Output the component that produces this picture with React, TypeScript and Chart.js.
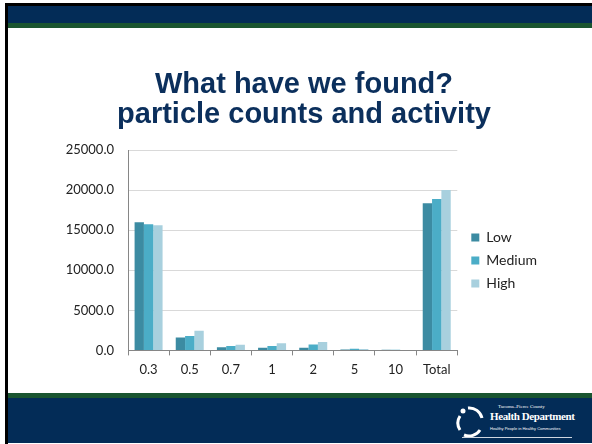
import React, { useEffect, useRef } from "react";
import { Chart, registerables } from "chart.js";

Chart.register(...registerables);

const categories = ["0.3", "0.5", "0.7", "1", "2", "5", "10", "Total"];
const lowValues = [16000, 1600, 400, 330, 330, 120, 80, 18350];
const mediumValues = [15750, 1800, 550, 540, 750, 200, 70, 18900];
const highValues = [15600, 2450, 700, 900, 1050, 170, 50, 20000];
const seriesNames = ["Low", "Medium", "High"];
const titleLines = ["What have we found?", "particle counts and activity"];
const yMax = 25000;
const yStep = 5000;

const NAVY = "#032C57";
const GREEN = "#1A5530";

const shiftLegend = {
  id: "shiftLegend",
  afterLayout(chart: any) {
    const l = chart.legend;
    if (l) {
      l.left += 5;
      l.right += 5;
      l.top += 54;
      l.bottom += 54;
    }
  },
};

function Logo() {
  return (
    <div style={{ position: "absolute", left: 452, top: 402, width: 130, height: 40, color: "#fff" }}>
      <svg width="32" height="34" style={{ position: "absolute", left: 2, top: 2 }}>
        <path d="M14 4 A13 13 0 0 1 28 14" stroke="#fff" strokeWidth="3" fill="none" />
        <path d="M6 12 A13 13 0 0 0 6 26" stroke="#fff" strokeWidth="3" fill="none" />
        <path d="M10 31 A13 13 0 0 0 26 26" stroke="#fff" strokeWidth="3" fill="none" />
        <circle cx="9" cy="7" r="2.5" fill="#fff" />
      </svg>
      <div style={{ position: "absolute", left: 46, top: 2, fontSize: 5, fontFamily: "Liberation Serif", whiteSpace: "nowrap" }}>
        Tacoma–Pierce County
      </div>
      <div style={{ position: "absolute", left: 38, top: 8, fontSize: 11, fontWeight: "bold", fontFamily: "Liberation Serif", whiteSpace: "nowrap", letterSpacing: -0.4 }}>
        Health Department
      </div>
      <div style={{ position: "absolute", left: 38, top: 24, fontSize: 4, fontFamily: "Liberation Sans", whiteSpace: "nowrap" }}>
        Healthy People in Healthy Communities
      </div>
      <div style={{ position: "absolute", left: 10, top: 35, width: 110, height: 1, background: "#cfd6e0" }} />
    </div>
  );
}

export default function App() {
  const canvasRef = useRef<HTMLCanvasElement | null>(null);

  useEffect(() => {
    if (!canvasRef.current) return;
    const chart = new Chart(canvasRef.current, {
      type: "bar",
      data: {
        labels: categories,
        datasets: [
          { label: seriesNames[0], data: lowValues, backgroundColor: "#3C8BA2" },
          { label: seriesNames[1], data: mediumValues, backgroundColor: "#4BADC7" },
          { label: seriesNames[2], data: highValues, backgroundColor: "#A8D0DE" },
        ],
      },
      options: {
        responsive: false,
        animation: false,
        datasets: { bar: { categoryPercentage: 0.68, barPercentage: 1 } },
        layout: { padding: { left: 58, right: 50, top: 0, bottom: 7 } },
        plugins: {
          title: {
            display: true,
            text: titleLines,
            color: "#0B2F5C",
            font: { family: "Liberation Sans", size: 29, weight: "bold", lineHeight: "30px" },
            padding: { top: 42, bottom: 20 },
          },
          legend: {
            position: "right",
            labels: {
              boxWidth: 8,
              boxHeight: 8,
              padding: 9,
              color: "#222",
              font: { family: "Lato", size: 14 },
            },
          },
          tooltip: { enabled: false },
        },
        scales: {
          x: {
            grid: {
              display: true,
              drawOnChartArea: false,
              drawTicks: true,
              tickLength: 5,
              offset: true,
              color: "#868686",
            },
            border: { display: true, color: "#868686" },
            ticks: { color: "#222", font: { family: "Lato", size: 13 }, padding: 7 },
          },
          y: {
            min: 0,
            max: yMax,
            grid: { color: "#D9D9D9", drawTicks: false },
            border: { display: true, color: "#868686" },
            ticks: {
              stepSize: yStep,
              padding: 14,
              color: "#222",
              font: { family: "Lato", size: 13 },
              callback: (v: any) => Number(v).toFixed(1),
            },
            afterFit: (s: any) => {
              s.width = 62;
            },
          },
        },
      },
      plugins: [shiftLegend],
    } as any);
    return () => chart.destroy();
  }, []);

  return (
    <div style={{ position: "fixed", left: 0, top: 0, width: 592, height: 444, background: "#fff", overflow: "hidden" }}>
      <div style={{ position: "absolute", left: 5, top: 3, width: 587, height: 3, background: "#000" }} />
      <div style={{ position: "absolute", left: 5, top: 3, width: 3, height: 441, background: "#000" }} />
      <div style={{ position: "absolute", left: 8, top: 6, width: 584, height: 17, background: NAVY }} />
      <div style={{ position: "absolute", left: 8, top: 23, width: 584, height: 5, background: GREEN }} />
      <div style={{ position: "absolute", left: 8, top: 393, width: 584, height: 5, background: GREEN }} />
      <div style={{ position: "absolute", left: 8, top: 398, width: 584, height: 45, background: NAVY }} />
      <canvas
        ref={canvasRef}
        width={584}
        height={364}
        style={{ position: "absolute", left: 8, top: 28, width: 584, height: 364 }}
      />
      <Logo />
    </div>
  );
}
